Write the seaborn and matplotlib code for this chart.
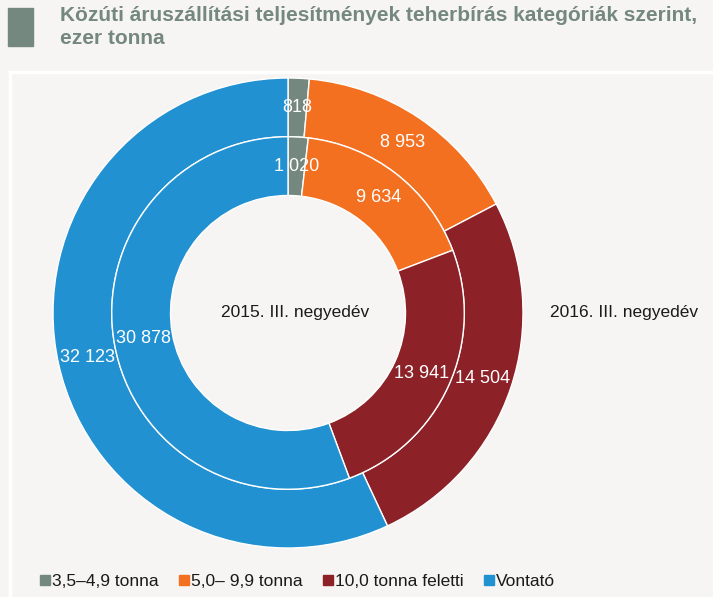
import numpy as np
import seaborn as sns
import matplotlib.pyplot as plt
from matplotlib.patches import Rectangle

# Data
categories = ['3,5–4,9 tonna', '5,0– 9,9 tonna', '10,0 tonna feletti', 'Vontató']
values_2016 = [818, 8953, 14504, 32123]   # outer ring
values_2015 = [1020, 9634, 13941, 30878]  # inner ring
colors = ['#75887f', '#f37021', '#8c2127', '#2191d1']

sns.set_theme(style='white')
plt.rcParams['font.family'] = ['Liberation Sans', 'DejaVu Sans']

bg = '#f6f5f3'
txt = '#1a1a1a'
fig = plt.figure(figsize=(7.13, 5.97), dpi=100, facecolor=bg)

# white frame (top and left edges visible, runs off the figure)
fig.patches.append(Rectangle((10 / 713, -0.1), 1.0, 1 - 72 / 597 + 0.1,
                             transform=fig.transFigure, fill=False,
                             edgecolor='white', linewidth=2.5))

# title block
fig.patches.append(Rectangle((8 / 713, 1 - 46 / 597), 25 / 713, 38 / 597,
                             transform=fig.transFigure, color='#75887f'))
fig.text(60 / 713, 1 - 6 / 597,
         'Közúti áruszállítási teljesítmények teherbírás kategóriák szerint,\nezer tonna',
         ha='left', va='top', fontsize=15, fontweight='bold', color='#75887f',
         linespacing=1.25)

cx, cy, R = 288, 597 - 313, 235
ax = fig.add_axes([(cx - R) / 713, (cy - R) / 597, 2 * R / 713, 2 * R / 597])
ax.set_facecolor(bg)

r_out, r_mid = 1.0, 0.75
w = 0.25

def fmt(v):
    return f'{v:,}'.replace(',', ' ')

for vals, radius in [(values_2016, r_out), (values_2015, r_mid)]:
    ax.pie(vals, radius=radius, colors=colors, startangle=90, counterclock=False,
           wedgeprops=dict(width=w, edgecolor='white', linewidth=1))
    total = sum(vals)
    cum = np.cumsum([0] + vals)
    rl = radius - w / 2
    for i, v in enumerate(vals):
        mid = (cum[i] + cum[i + 1]) / 2 / total
        ang = np.deg2rad(90 - mid * 360)
        ax.text(rl * np.cos(ang), rl * np.sin(ang), fmt(v), ha='center', va='center',
                fontsize=13, color='white')

ax.text(0.03, 0, '2015. III. negyedév', ha='center', va='center', fontsize=12.5, color=txt)
ax.text(1.43, 0, '2016. III. negyedév', ha='center', va='center', fontsize=12.5, color=txt)
ax.set_xlim(-1, 1)
ax.set_ylim(-1, 1)
ax.set_aspect('equal')
ax.axis('off')

handles = [plt.Line2D([], [], marker='s', linestyle='', markersize=7, color=c) for c in colors]
fig.legend(handles, categories, loc='center left', bbox_to_anchor=(21 / 713, 1 - 581 / 597),
           ncol=4, frameon=False, fontsize=12.5, handletextpad=-0.1, columnspacing=0.95,
           handlelength=1.0, labelcolor=txt)

fig.savefig('out.png', dpi=100, facecolor=bg)
